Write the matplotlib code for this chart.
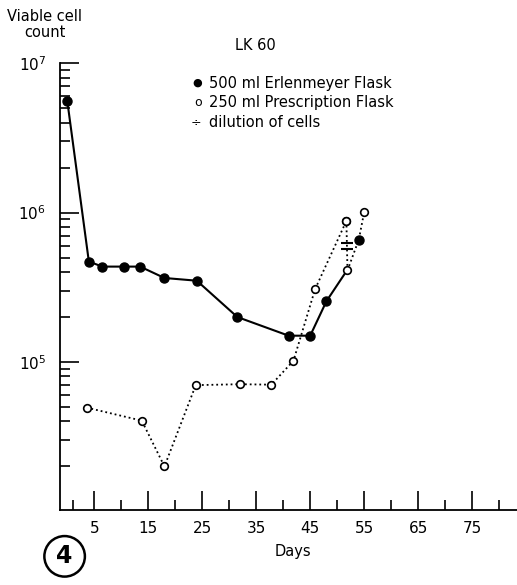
import matplotlib.pyplot as plt
import numpy as np
from matplotlib.ticker import FixedLocator, LogLocator, NullFormatter

# 500 ml Erlenmeyer flask (filled)
erl_days = [0, 4, 6.5, 10.5, 13.5, 18, 24, 31.5, 41, 45, 48, 51.8]
erl_count = [5.6e6, 4.7e5, 4.35e5, 4.35e5, 4.35e5, 3.65e5, 3.5e5, 2.0e5, 1.5e5, 1.5e5, 2.55e5, 4.1e5]

# 250 ml prescription flask (open)
pre_days = [3.6, 13.8, 18, 23.8, 32, 37.8, 41.9, 45.9, 51.7]
pre_count = [4.95e4, 4.05e4, 2.0e4, 7.0e4, 7.1e4, 7.05e4, 1.02e5, 3.07e5, 8.8e5]

# after dilution
dil_days = [51.7, 51.9]
dil_count = [8.8e5, 4.1e5]
post_days = [51.9, 54.0, 55.0]
post_count = [4.1e5, 6.6e5, 1.01e6]
dil_mark = [6.28e5, 5.68e5]

plt.rcParams['font.family'] = 'DejaVu Sans'
fig = plt.figure(figsize=(5.17, 5.85), dpi=100)
ax = fig.add_axes([0.116, 0.128, 0.884, 0.764])

ax.plot(erl_days[:11], erl_count[:11], '-', color='black', lw=1.5,
        marker='o', ms=6.5, mfc='black', mec='black', zorder=3)
ax.plot(erl_days[10:], erl_count[10:], '-', color='black', lw=1.5, zorder=2)
ax.plot(pre_days, pre_count, ':', color='black', lw=1.3,
        marker='o', ms=5.5, mfc='white', mec='black', mew=1.2, zorder=3)
ax.plot(dil_days, dil_count, ':', color='black', lw=1.3,
        marker='o', ms=5.5, mfc='white', mec='black', mew=1.2, zorder=3)
ax.plot(post_days, post_count, ':', color='black', lw=1.3, zorder=2)
ax.plot(post_days[1:2], post_count[1:2], 'o', color='black', ms=6.5, zorder=4)
ax.plot(post_days[2:], post_count[2:], 'o', ms=5.5, mfc='white', mec='black', mew=1.2, zorder=4)
ax.plot([51.8, 51.8], dil_mark, '_', color='black', ms=8, mew=1.5, zorder=4)

ax.set_yscale('log')
ax.set_ylim(1.02e4, 1e7)
ax.set_xlim(-1.35, 83.3)

ax.set_yticks([1e5, 1e6, 1e7])
ax.set_yticklabels([r'$10^5$', r'$10^6$', r'$10^7$'])
ax.yaxis.set_minor_locator(LogLocator(base=10, subs=np.arange(2, 10)))
ax.yaxis.set_minor_formatter(NullFormatter())

ax.xaxis.set_major_locator(FixedLocator([5, 15, 25, 35, 45, 55, 65, 75]))
ax.xaxis.set_minor_locator(FixedLocator([1, 10, 20, 30, 40, 50, 60, 70, 80]))

ax.tick_params(axis='both', which='major', direction='in', length=14, width=1.2,
               labelsize=11, pad=8)
ax.tick_params(axis='both', which='minor', direction='in', length=7, width=1.2)
ax.tick_params(axis='y', which='major', pad=10)

for s in ['top', 'right']:
    ax.spines[s].set_visible(False)
for s in ['left', 'bottom']:
    ax.spines[s].set_linewidth(1.3)

ax.set_xlabel('Days', fontsize=10.5)
ax.xaxis.set_label_coords(0.51, -0.075)

fig.text(0.087, 0.958, 'Viable cell\ncount', ha='center', va='center',
         fontsize=10.5, linespacing=1.05)
fig.text(0.455, 0.922, 'LK 60', ha='left', va='center', fontsize=10.5)

leg_x = 0.393
leg_y = [0.858, 0.824, 0.790]
fig.text(leg_x - 0.003, leg_y[0], '\u25cf', ha='right', va='center', fontsize=8)
fig.text(leg_x - 0.003, leg_y[1], 'o', ha='right', va='center', fontsize=9)
fig.text(leg_x - 0.003, leg_y[2], '\u00f7', ha='right', va='center', fontsize=9)
fig.text(leg_x + 0.012, leg_y[0], '500 ml Erlenmeyer Flask', ha='left', va='center', fontsize=10.5)
fig.text(leg_x + 0.012, leg_y[1], '250 ml Prescription Flask', ha='left', va='center', fontsize=10.5)
fig.text(leg_x + 0.012, leg_y[2], 'dilution of cells', ha='left', va='center', fontsize=10.5)

fig.text(0.125, 0.049, '4', ha='center', va='center', fontsize=17, fontweight='bold',
         bbox=dict(boxstyle='circle,pad=0.35', fc='white', ec='black', lw=1.8))

fig.savefig('out.png', dpi=100)
